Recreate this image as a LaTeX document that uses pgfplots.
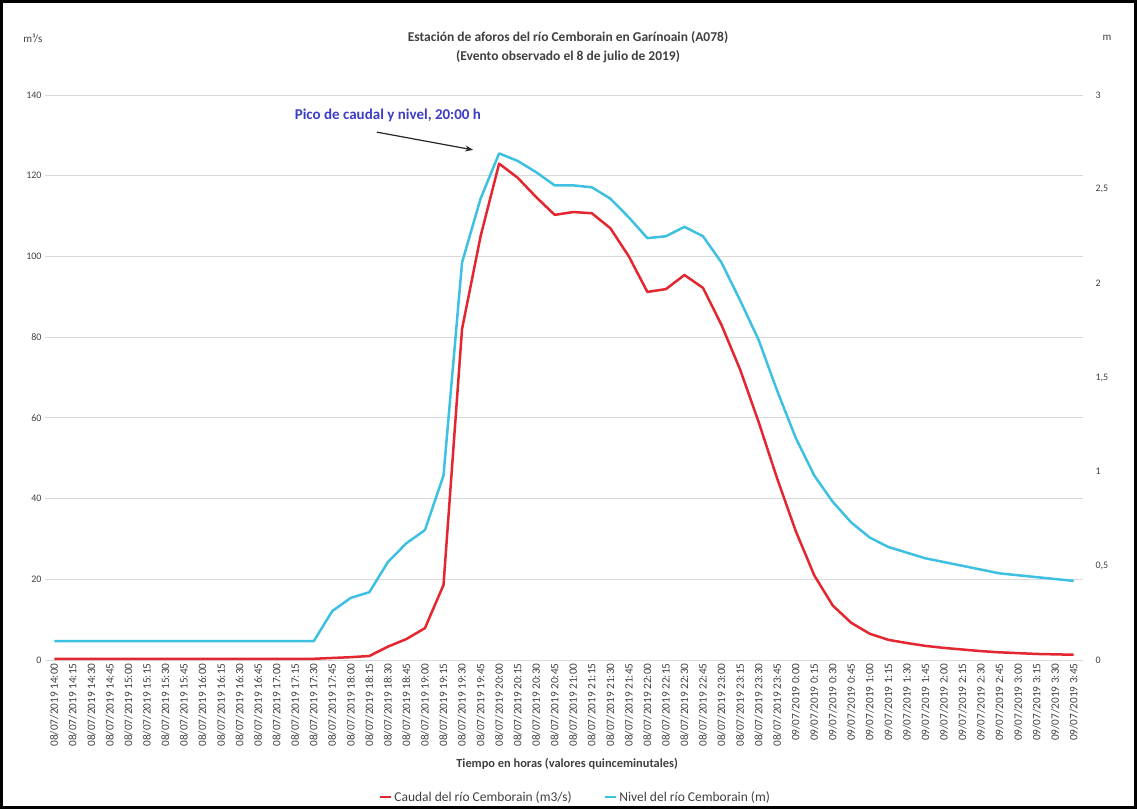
\documentclass[border=0pt]{standalone}
\usepackage{fontspec}
\setmainfont{Carlito}
\usepackage{pgfplots}
\pgfplotsset{compat=1.18}
\usepackage{pgfplotstable}
\usetikzlibrary{arrows.meta}
\definecolor{cred}{RGB}{228,38,48}
\definecolor{cblue}{RGB}{62,192,226}
\definecolor{gridc}{RGB}{217,217,217}
\definecolor{txt}{RGB}{64,64,64}
\definecolor{annot}{RGB}{60,60,200}

\pgfplotstableread{
i q h
0 0.3 0.10
1 0.3 0.10
2 0.3 0.10
3 0.3 0.10
4 0.3 0.10
5 0.3 0.10
6 0.3 0.10
7 0.3 0.10
8 0.3 0.10
9 0.3 0.10
10 0.3 0.10
11 0.3 0.10
12 0.3 0.10
13 0.3 0.10
14 0.3 0.10
15 0.5 0.26
16 0.7 0.33
17 1.0 0.36
18 3.3 0.52
19 5.2 0.62
20 7.9 0.69
21 18.6 0.98
22 82 2.11
23 105 2.45
24 123 2.69
25 119.5 2.65
26 114.7 2.59
27 110.3 2.52
28 111 2.52
29 110.7 2.51
30 107 2.45
31 100 2.35
32 91.2 2.24
33 91.9 2.25
34 95.4 2.30
35 92.2 2.25
36 83 2.11
37 72 1.91
38 59 1.70
39 45 1.43
40 32 1.18
41 21 0.98
42 13.5 0.84
43 9.2 0.73
44 6.5 0.65
45 5.0 0.60
46 4.2 0.57
47 3.5 0.54
48 3.0 0.52
49 2.6 0.50
50 2.2 0.48
51 1.9 0.46
52 1.7 0.45
53 1.5 0.44
54 1.4 0.43
55 1.3 0.42
}\datatab

\begin{document}
\begin{tikzpicture}
\useasboundingbox (0pt,0pt) rectangle (1137pt,809pt);
\draw[line width=2.5pt] (1.5pt,1.5pt) rectangle (1135.5pt,807.5pt);
\node[font=\bfseries\fontsize{13.5}{19}\selectfont, text=txt, align=center] at (568pt,762pt)
  {Estación de aforos del río Cemborain en Garínoain (A078)\\(Evento observado el 8 de julio de 2019)};
\node[font=\fontsize{11}{12}\selectfont, text=txt] at (33pt,771pt) {m³/s};
\node[font=\fontsize{11}{12}\selectfont, text=txt] at (1107pt,771pt) {m};
\begin{axis}[
 at={(45pt,149pt)}, anchor=south west, scale only axis, width=1038pt, height=565pt,
 xmin=-0.5, xmax=55.5, ymin=0, ymax=140,
 ytick={0,20,40,60,80,100,120,140},
 xtick={0,...,55},
 xticklabels={08/07/2019 14:00,08/07/2019 14:15,08/07/2019 14:30,08/07/2019 14:45,08/07/2019 15:00,08/07/2019 15:15,08/07/2019 15:30,08/07/2019 15:45,08/07/2019 16:00,08/07/2019 16:15,08/07/2019 16:30,08/07/2019 16:45,08/07/2019 17:00,08/07/2019 17:15,08/07/2019 17:30,08/07/2019 17:45,08/07/2019 18:00,08/07/2019 18:15,08/07/2019 18:30,08/07/2019 18:45,08/07/2019 19:00,08/07/2019 19:15,08/07/2019 19:30,08/07/2019 19:45,08/07/2019 20:00,08/07/2019 20:15,08/07/2019 20:30,08/07/2019 20:45,08/07/2019 21:00,08/07/2019 21:15,08/07/2019 21:30,08/07/2019 21:45,08/07/2019 22:00,08/07/2019 22:15,08/07/2019 22:30,08/07/2019 22:45,08/07/2019 23:00,08/07/2019 23:15,08/07/2019 23:30,08/07/2019 23:45,09/07/2019 0:00,09/07/2019 0:15,09/07/2019 0:30,09/07/2019 0:45,09/07/2019 1:00,09/07/2019 1:15,09/07/2019 1:30,09/07/2019 1:45,09/07/2019 2:00,09/07/2019 2:15,09/07/2019 2:30,09/07/2019 2:45,09/07/2019 3:00,09/07/2019 3:15,09/07/2019 3:30,09/07/2019 3:45},
 x tick label style={rotate=90, anchor=east, font=\fontsize{11.3}{12}\selectfont, text=txt},
 y tick label style={font=\fontsize{10}{11}\selectfont, text=txt},
 ymajorgrids, grid style={gridc, line width=0.8pt},
 axis line style={draw=none},
 major tick length=0pt,
 /pgf/number format/assume math mode=true,
 xlabel={Tiempo en horas (valores quinceminutales)},
 xlabel style={font=\bfseries\fontsize{12.4}{14}\selectfont, text=txt, at={(axis description cs:0.503,-0.184)}, anchor=center},
 legend columns=2,
 legend style={draw=none, fill=none, at={(axis description cs:0.511,-0.2425)}, anchor=center, font=\fontsize{13.5}{15}\selectfont, text=txt, /tikz/every even column/.append style={column sep=30pt}},
 legend image code/.code={\draw[#1] (0pt,0pt) -- (11pt,0pt);},
 clip=false,
]
\addplot[cred, line width=2.5pt, line join=round] table[x=i,y=q]{\datatab};
\addlegendentry{Caudal del río Cemborain (m3/s)}
\addlegendimage{cblue, line width=2.5pt}
\addlegendentry{Nivel del río Cemborain (m)}
\node[font=\bfseries\fontsize{15}{17}\selectfont, text=annot] at (axis cs:18.0,135) {Pico de caudal y nivel, 20:00 h};
\draw[-{Stealth[length=8pt,width=6pt]}, line width=1.2pt, black!85] (axis cs:17.4,130.8) -- (axis cs:22.6,126.4);
\end{axis}
\begin{axis}[
 at={(45pt,149pt)}, anchor=south west, scale only axis, width=1038pt, height=565pt,
 xmin=-0.5, xmax=55.5, ymin=0, ymax=3,
 axis y line*=right, axis x line=none,
 ytick={0,0.5,1,1.5,2,2.5,3},
 y tick label style={font=\fontsize{10}{11}\selectfont, text=txt, xshift=9pt},
 /pgf/number format/use comma,
 /pgf/number format/assume math mode=true,
 axis line style={draw=none},
 major tick length=0pt,
]
\addplot[cblue, line width=2.5pt, line join=round] table[x=i,y=h]{\datatab};
\end{axis}
\end{tikzpicture}
\end{document}
